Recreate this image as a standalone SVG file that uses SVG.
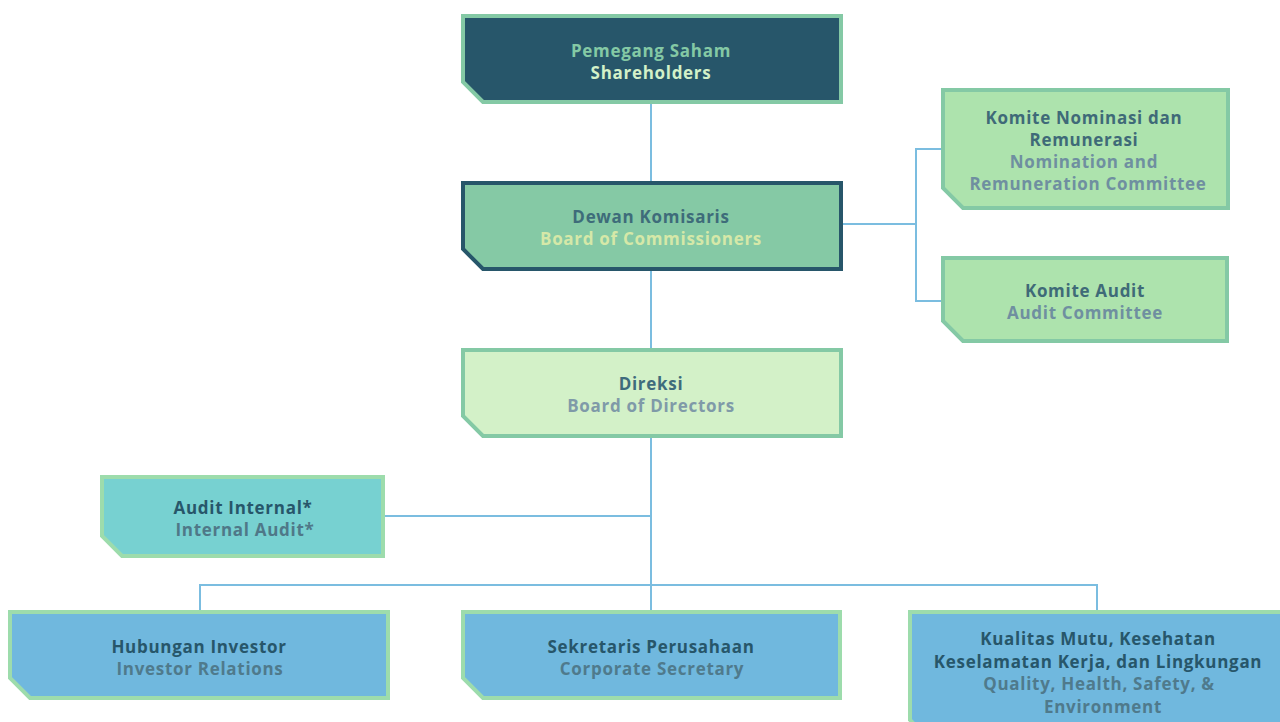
<svg xmlns="http://www.w3.org/2000/svg" width="1280" height="722" viewBox="0 0 1280 722">
<style>
text{font-family:"Open Sans","Liberation Sans",sans-serif;font-weight:700;font-size:17px;letter-spacing:0.7px;text-anchor:middle}
.c{fill:none;stroke:#7bbde0;stroke-width:2}
</style>
<rect width="1280" height="722" fill="#ffffff"/>
<g id="connectors">
<path class="c" d="M651 103V181M651 271V348M651 438V610M385 516H651M200 610V585H1097V610M843 224H916M941 149H916V301H941"/>
</g>
<g id="shareholders">
<path d="M463 16H841V102H483L463 82Z" fill="#27566a" stroke="#84c9a5" stroke-width="4"/>
<text x="651" y="57" fill="#84c9a5">Pemegang Saham</text>
<text x="651" y="79" fill="#d3f1c8">Shareholders</text>
</g>
<g id="commissioners">
<path d="M463 183H841V269H483L463 249Z" fill="#85c9a5" stroke="#27566a" stroke-width="4"/>
<text x="651" y="223" fill="#3e6c7a">Dewan Komisaris</text>
<text x="651" y="245" fill="#d5e8a8">Board of Commissioners</text>
</g>
<g id="nomination">
<path d="M943 90H1228V208H963L943 188Z" fill="#ade3ad" stroke="#84c9a5" stroke-width="4"/>
<text x="1084" y="124" fill="#3f6a78">Komite Nominasi dan</text>
<text x="1084" y="146" fill="#3f6a78">Remunerasi</text>
<text x="1084" y="168" fill="#6f8fa0">Nomination and</text>
<text x="1088" y="190" fill="#6f8fa0">Remuneration Committee</text>
</g>
<g id="audit-committee">
<path d="M943 258H1227V341H963L943 321Z" fill="#ade3ad" stroke="#84c9a5" stroke-width="4"/>
<text x="1085" y="297" fill="#3f6a78">Komite Audit</text>
<text x="1085" y="319" fill="#6f8fa0">Audit Committee</text>
</g>
<g id="directors">
<path d="M463 350H841V436H483L463 416Z" fill="#d3f1c8" stroke="#84c9a5" stroke-width="4"/>
<text x="651" y="390" fill="#3e6b7c">Direksi</text>
<text x="651" y="412" fill="#7f9aa8">Board of Directors</text>
</g>
<g id="internal-audit">
<path d="M102 477H383V556H122L102 536Z" fill="#77d1d1" stroke="#9ddcac" stroke-width="4"/>
<text x="243" y="514" fill="#27566a">Audit Internal*</text>
<text x="245" y="536" fill="#4f7888">Internal Audit*</text>
</g>
<g id="investor-relations">
<path d="M10 612H388V698H30L10 678Z" fill="#70b8de" stroke="#9ddcac" stroke-width="4"/>
<text x="199" y="653" fill="#27566a">Hubungan Investor</text>
<text x="200" y="675" fill="#4f7a8c">Investor Relations</text>
</g>
<g id="corporate-secretary">
<path d="M463 612H840V698H483L463 678Z" fill="#70b8de" stroke="#9ddcac" stroke-width="4"/>
<text x="651" y="653" fill="#27566a">Sekretaris Perusahaan</text>
<text x="652" y="675" fill="#4f7a8c">Corporate Secretary</text>
</g>
<g id="qhse">
<path d="M910 612H1290V740H930L910 720Z" fill="#70b8de" stroke="#9ddcac" stroke-width="4"/>
<text x="1098" y="645" fill="#27566a">Kualitas Mutu, Kesehatan</text>
<text x="1098" y="668" fill="#27566a">Keselamatan Kerja, dan Lingkungan</text>
<text x="1099" y="690" fill="#4f7a8c">Quality, Health, Safety, &amp;</text>
<text x="1103" y="713" fill="#4f7a8c">Environment</text>
</g>
</svg>
